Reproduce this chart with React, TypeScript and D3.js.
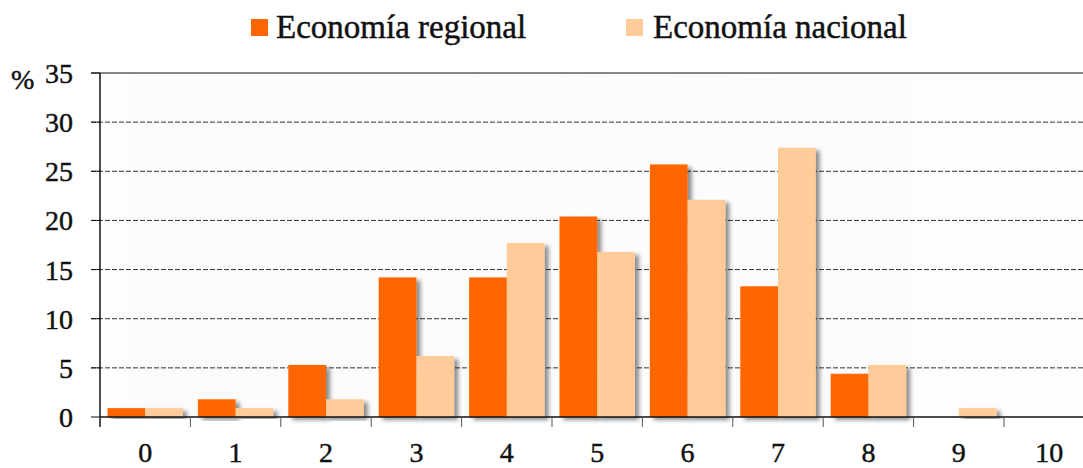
import React from "react";
import * as d3 from "d3";

const categories = ["0", "1", "2", "3", "4", "5", "6", "7", "8", "9", "10"];
const seriesNames = ["Economía regional", "Economía nacional"];
const regional = [0.9, 1.8, 5.3, 14.2, 14.2, 20.4, 25.7, 13.3, 4.4, 0, 0];
const nacional = [0.9, 0.9, 1.8, 6.2, 17.7, 16.8, 22.1, 27.4, 5.3, 0.9, 0];
const yTicks = [0, 5, 10, 15, 20, 25, 30, 35];
const colors = ["#FF6600", "#FFCC99"];

const W = 1083;
const H = 468;
const left = 100;
const step = 90.4;
const y0 = 417;
const yTop = 73;
const font = "'Liberation Serif', 'Times New Roman', serif";

export default function App() {
  const x = d3
    .scaleBand<string>()
    .domain(categories)
    .range([left, left + step * categories.length])
    .padding(0);
  const x1 = d3
    .scaleBand<string>()
    .domain(seriesNames)
    .range([7.5, step - 7.5])
    .padding(0);
  const y = d3.scaleLinear().domain([0, 35]).range([y0, yTop]);
  const data = [regional, nacional];
  const txt = { fill: "#111", stroke: "#111", strokeWidth: 0.45 };

  return (
    <svg
      width={W}
      height={H}
      style={{ position: "absolute", left: 0, top: 0, background: "#fff" }}
      fontFamily={font}
    >
      <defs>
        <filter id="sh" x="-20%" y="-20%" width="160%" height="140%">
          <feDropShadow dx="4" dy="3" stdDeviation="2" floodColor="#000" floodOpacity="0.45" />
        </filter>
        <linearGradient id="bg" x1="0" x2="1" y1="0" y2="0">
          <stop offset="0" stopColor="#ffffff" />
          <stop offset="0.05" stopColor="#fbfbfb" />
          <stop offset="1" stopColor="#fdfdfd" />
        </linearGradient>
      </defs>
      <rect x={left} y={yTop} width={W - left} height={y0 - yTop} fill="url(#bg)" />

      {/* legend */}
      <rect x={251} y={19} width={17} height={17} fill={colors[0]} />
      <text x={276} y={38} fontSize={33} {...txt}>
        {seriesNames[0]}
      </text>
      <rect x={626} y={19} width={17} height={17} fill={colors[1]} />
      <text x={653} y={38} fontSize={33} {...txt}>
        {seriesNames[1]}
      </text>

      {/* gridlines */}
      {yTicks.map((t) =>
        t === 0 ? null : (
          <line
            key={"g" + t}
            x1={91}
            x2={W}
            y1={y(t)}
            y2={y(t)}
            stroke={t === 35 ? "#111" : "#333"}
            strokeWidth={1}
            strokeDasharray={t === 35 ? undefined : "5,2"}
          />
        )
      )}

      {/* bars */}
      {categories.map((c, i) => (
        <g key={c} transform={`translate(${x(c)},0)`}>
          {seriesNames.map((s, k) =>
            data[k][i] > 0 ? (
              <rect
                key={s}
                x={x1(s)}
                y={y(data[k][i])}
                width={x1.bandwidth()}
                height={y0 - y(data[k][i])}
                fill={colors[k]}
                filter="url(#sh)"
              />
            ) : null
          )}
        </g>
      ))}

      {/* y axis */}
      <line x1={left} x2={left} y1={yTop} y2={427} stroke="#111" strokeWidth={1.5} />
      {yTicks.map((t) => (
        <g key={"t" + t}>
          <line x1={91} x2={left} y1={y(t)} y2={y(t)} stroke="#111" />
          <text x={73} y={y(t) + 10} textAnchor="end" fontSize={28} {...txt}>
            {t}
          </text>
        </g>
      ))}
      <text x={11} y={89} fontSize={28} {...txt}>
        %
      </text>

      {/* x axis */}
      <line x1={left} x2={W} y1={y0} y2={y0} stroke="#111" strokeWidth={1.5} />
      {categories.map((c) => (
        <line
          key={"xt" + c}
          x1={x(c)!}
          x2={x(c)!}
          y1={y0}
          y2={427}
          stroke="#555"
        />
      ))}
      {categories.map((c) => (
        <text
          key={"xl" + c}
          x={x(c)! + step / 2}
          y={462}
          textAnchor="middle"
          fontSize={28}
          {...txt}
        >
          {c}
        </text>
      ))}
    </svg>
  );
}
